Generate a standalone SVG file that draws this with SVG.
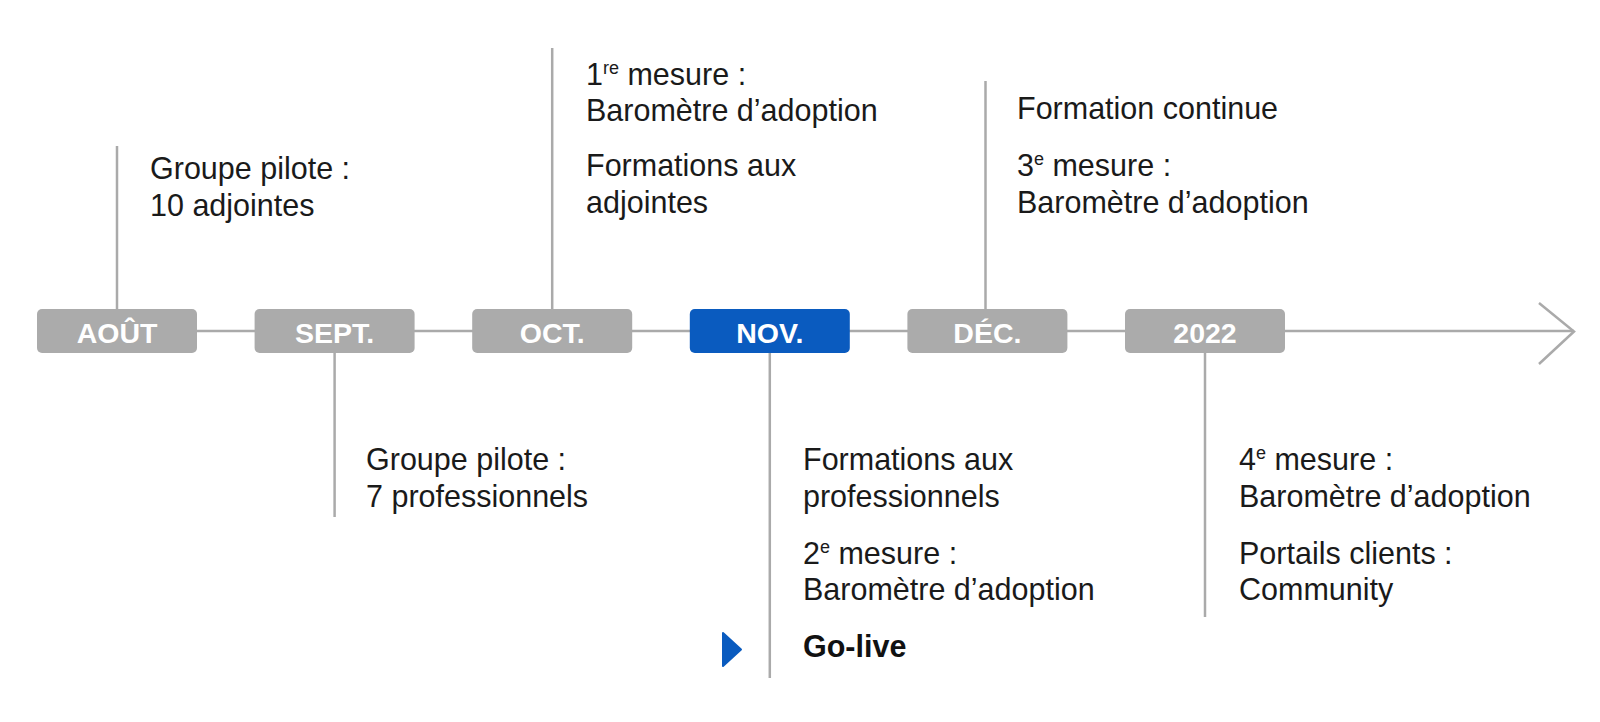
<svg xmlns="http://www.w3.org/2000/svg" width="1600" height="722" viewBox="0 0 1600 722">
<style>
.box{fill:#ababab}
.cur{fill:#0a5bbf}
.lbl{font-family:"Liberation Sans",Arial,sans-serif;font-weight:700;font-size:28.5px;fill:#ffffff;text-anchor:middle}
.t{font-family:"Liberation Sans",Arial,sans-serif;font-size:30.5px;fill:#1a1a1a}
.sup{font-size:18px}
.b{font-weight:700;fill:#111111}
.ln{stroke:#aaaaaa;stroke-width:2.5;fill:none}
</style>
<rect width="1600" height="722" fill="#ffffff"/>
<g id="connectors">
<line class="ln" x1="117" y1="331" x2="1574" y2="331"/>
<polyline class="ln" points="1539,303 1574,331.5 1539,364"/>
<line class="ln" x1="117" y1="146" x2="117" y2="309"/>
<line class="ln" x1="334.6" y1="353" x2="334.6" y2="517"/>
<line class="ln" x1="552.2" y1="48" x2="552.2" y2="309"/>
<line class="ln" x1="769.8" y1="353" x2="769.8" y2="678"/>
<line class="ln" x1="985.5" y1="81" x2="985.5" y2="309"/>
<line class="ln" x1="1205" y1="353" x2="1205" y2="617"/>
</g>
<g id="aout">
<rect class="box" x="37" y="309" width="160" height="44" rx="5"/>
<text class="lbl" x="117" y="342.5">AOÛT</text>
<text class="t" x="150" y="179">Groupe pilote :</text>
<text class="t" x="150" y="216">10 adjointes</text>
</g>
<g id="sept">
<rect class="box" x="254.6" y="309" width="160" height="44" rx="5"/>
<text class="lbl" x="334.6" y="342.5">SEPT.</text>
<text class="t" x="366" y="470">Groupe pilote :</text>
<text class="t" x="366" y="507">7 professionnels</text>
</g>
<g id="oct">
<rect class="box" x="472.2" y="309" width="160" height="44" rx="5"/>
<text class="lbl" x="552.2" y="342.5">OCT.</text>
<text class="t" x="586" y="85">1<tspan class="sup" dy="-11">re</tspan><tspan dy="11"> mesure :</tspan></text>
<text class="t" x="586" y="121">Baromètre d’adoption</text>
<text class="t" x="586" y="176">Formations aux</text>
<text class="t" x="586" y="213">adjointes</text>
</g>
<g id="nov">
<rect class="cur" x="689.8" y="309" width="160" height="44" rx="5"/>
<text class="lbl" x="769.8" y="342.5">NOV.</text>
<text class="t" x="803" y="470">Formations aux</text>
<text class="t" x="803" y="507">professionnels</text>
<text class="t" x="803" y="564">2<tspan class="sup" dy="-11">e</tspan><tspan dy="11"> mesure :</tspan></text>
<text class="t" x="803" y="600">Baromètre d’adoption</text>
<polygon points="723,633 741,649.5 723,666" fill="#0a5bbf" stroke="#0a5bbf" stroke-width="2" stroke-linejoin="round"/>
<text class="t b" x="803" y="657">Go-live</text>
</g>
<g id="dec">
<rect class="box" x="907.4" y="309" width="160" height="44" rx="5"/>
<text class="lbl" x="987.4" y="342.5">DÉC.</text>
<text class="t" x="1017" y="119">Formation continue</text>
<text class="t" x="1017" y="176">3<tspan class="sup" dy="-11">e</tspan><tspan dy="11"> mesure :</tspan></text>
<text class="t" x="1017" y="213">Baromètre d’adoption</text>
</g>
<g id="y2022">
<rect class="box" x="1125" y="309" width="160" height="44" rx="5"/>
<text class="lbl" x="1205" y="342.5">2022</text>
<text class="t" x="1239" y="470">4<tspan class="sup" dy="-11">e</tspan><tspan dy="11"> mesure :</tspan></text>
<text class="t" x="1239" y="507">Baromètre d’adoption</text>
<text class="t" x="1239" y="564">Portails clients :</text>
<text class="t" x="1239" y="600">Community</text>
</g>
</svg>
